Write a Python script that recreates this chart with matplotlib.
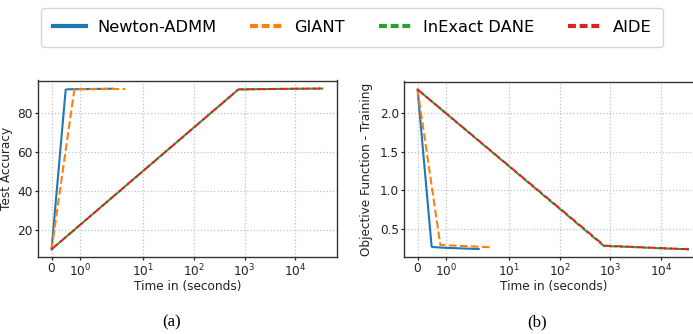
import math
import matplotlib
matplotlib.use("Agg")
import matplotlib.pyplot as plt
from matplotlib.ticker import FixedLocator, FuncFormatter, NullLocator
from matplotlib.lines import Line2D

# ---------------- data ----------------
methods = ["Newton-ADMM", "GIANT", "InExact DANE", "AIDE"]
colors = ["#1f77b4", "#ff7f0e", "#2ca02c", "#d62728"]

newton_time = [0.0, 0.5, 0.55, 1.0, 1.6, 2.5]
newton_acc = [10.0, 91.75, 92.0, 92.1, 92.2, 92.3]
newton_obj = [2.303, 0.275, 0.270, 0.260, 0.252, 0.245]

giant_time = [0.0, 0.81, 1.5, 2.5, 4.4]
giant_acc = [10.0, 92.0, 92.1, 92.15, 92.2]
giant_obj = [2.303, 0.297, 0.285, 0.275, 0.267]

dane_time = [0.0, 750.0, 2000.0, 5000.0, 12000.0, 36000.0]
dane_acc = [10.0, 91.9, 92.1, 92.2, 92.3, 92.4]
dane_obj = [2.303, 0.283, 0.274, 0.263, 0.252, 0.241]

aide_time = [0.0, 760.0, 2000.0, 5000.0, 12000.0, 36000.0]
aide_acc = [10.0, 92.0, 92.1, 92.2, 92.3, 92.4]
aide_obj = [2.303, 0.288, 0.276, 0.265, 0.254, 0.242]

x_ticks = [0, 1, 10, 100, 1000, 10000]
acc_ticks = [20, 40, 60, 80]
obj_ticks = [0.5, 1.0, 1.5, 2.0]

xlabel = "Time in (seconds)"
ylabels = ["Test Accuracy", "Objective Function - Training"]
captions = ["(a)", "(b)"]

# ---------------- figure ----------------
W, H = 693, 334
fig = plt.figure(figsize=(W / 100, H / 100), dpi=100)

spine_col = "#333333"
text_col = "#222222"


def fmt(x, pos=None):
    if x == 0:
        return r"$\mathdefault{0}$"
    e = int(round(math.log10(x)))
    return r"$\mathdefault{10^{%d}}$" % e


def style_axes(ax, yticks, ylabel, ylab_x):
    ax.set_xscale("symlog", linthresh=2, linscale=1)
    ax.xaxis.set_major_locator(FixedLocator(x_ticks))
    ax.xaxis.set_major_formatter(FuncFormatter(fmt))
    ax.xaxis.set_minor_locator(NullLocator())
    ax.set_yticks(yticks)
    ax.grid(True, linestyle=":", color="#c0c0c0", linewidth=0.9)
    ax.set_axisbelow(True)
    for s in ax.spines.values():
        s.set_color(spine_col)
        s.set_linewidth(1.0)
    ax.tick_params(labelsize=8.7, colors=text_col, length=2.2, width=0.9, pad=1.5)
    ax.set_xlabel(xlabel, fontsize=8.7, color=text_col, labelpad=1)
    ax.set_ylabel(ylabel, fontsize=8.7, color=text_col)
    ax.yaxis.set_label_coords(ylab_x, 0.5)


ax_bot = 1 - 257.3 / H
axa = fig.add_axes([38 / W, ax_bot, (337 - 38) / W, (257.3 - 80.5) / H])
axb = fig.add_axes([404 / W, ax_bot, (702.6 - 404) / W, (257.3 - 81.5) / H])


def draw(ax, ys):
    ax.plot(newton_time, ys[0], color=colors[0], lw=1.5, ls="-")
    ax.plot(giant_time, ys[1], color=colors[1], lw=1.5, ls=(0, (3.7, 1.6)))
    ax.plot(dane_time, ys[2], color=colors[2], lw=1.5, ls=(2.6, (3.7, 1.6)))
    ax.plot(aide_time, ys[3], color=colors[3], lw=1.5, ls=(0, (3.7, 1.6)))


draw(axa, [newton_acc, giant_acc, dane_acc, aide_acc])
draw(axb, [newton_obj, giant_obj, dane_obj, aide_obj])

style_axes(axa, acc_ticks, ylabels[0], (13 - 38) / 299)
style_axes(axb, obj_ticks, ylabels[1], (373 - 404) / 298.6)

# captions
for cx, cap in zip([171.7, 536.7], captions):
    fig.text(cx / W, 1 - 322 / H, cap, ha="center", va="center",
             fontsize=12, family=["Liberation Serif", "DejaVu Serif"])

# legend
handles = [
    Line2D([], [], color=colors[0], lw=3.0, ls="-"),
    Line2D([], [], color=colors[1], lw=3.0, ls=(0, (1.9, 0.9))),
    Line2D([], [], color=colors[2], lw=3.0, ls=(0, (1.9, 0.9))),
    Line2D([], [], color=colors[3], lw=3.0, ls=(0, (1.9, 0.9))),
]
leg = fig.legend(handles, methods, loc="center", bbox_to_anchor=(352 / W, 1 - 27.5 / H),
                 ncol=4, frameon=True, fancybox=True, edgecolor="#cccccc",
                 prop={"family": "DejaVu Sans", "size": 11.7},
                 handlelength=2.05, handletextpad=0.7, columnspacing=2.05,
                 borderpad=0.75, borderaxespad=0)
leg.get_frame().set_linewidth(1.0)

fig.savefig("out.png", dpi=100)
